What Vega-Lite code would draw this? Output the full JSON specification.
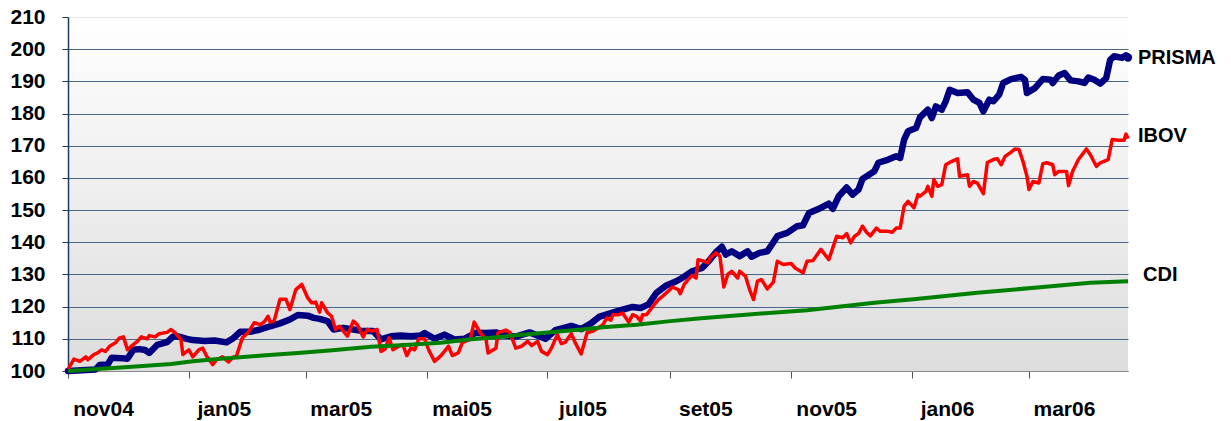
{
  "$schema": "https://vega.github.io/schema/vega-lite/v6.json",
  "width": 1060,
  "height": 354,
  "autosize": {"type": "none"},
  "padding": {"left": 68, "top": 17, "right": 103, "bottom": 50},
  "background": "#ffffff",
  "view": {
    "stroke": null,
    "fill": {"gradient": "linear", "x1": 0, "y1": 0, "x2": 0, "y2": 1,
      "stops": [{"offset": 0, "color": "#ffffff"}, {"offset": 1, "color": "#dddddd"}]}
  },
  "config": {"font": "Liberation Sans"},
  "datasets": {
    "prisma": [
      {"date": "2004-11-01", "value": 100}, {"date": "2004-11-15", "value": 100.5}, {"date": "2004-11-17", "value": 101.9},
      {"date": "2004-11-21", "value": 102}, {"date": "2004-11-23", "value": 104.1}, {"date": "2004-11-28", "value": 104},
      {"date": "2004-12-01", "value": 103.8}, {"date": "2004-12-04", "value": 106.6}, {"date": "2004-12-07", "value": 106.8},
      {"date": "2004-12-10", "value": 106.5}, {"date": "2004-12-12", "value": 105.6}, {"date": "2004-12-16", "value": 108.1},
      {"date": "2004-12-21", "value": 109}, {"date": "2004-12-24", "value": 110.7}, {"date": "2004-12-27", "value": 110.7},
      {"date": "2004-12-31", "value": 110}, {"date": "2005-01-03", "value": 109.6}, {"date": "2005-01-09", "value": 109.3},
      {"date": "2005-01-14", "value": 109.5}, {"date": "2005-01-20", "value": 108.9}, {"date": "2005-01-23", "value": 110},
      {"date": "2005-01-27", "value": 112.2}, {"date": "2005-02-01", "value": 112.2}, {"date": "2005-02-06", "value": 112.9},
      {"date": "2005-02-11", "value": 113.9}, {"date": "2005-02-16", "value": 114.8}, {"date": "2005-02-21", "value": 116},
      {"date": "2005-02-25", "value": 117.4}, {"date": "2005-03-02", "value": 117.2}, {"date": "2005-03-05", "value": 116.5},
      {"date": "2005-03-08", "value": 116.2}, {"date": "2005-03-12", "value": 115.5}, {"date": "2005-03-15", "value": 112.9},
      {"date": "2005-03-20", "value": 113.4}, {"date": "2005-03-25", "value": 112.9}, {"date": "2005-03-30", "value": 112.4},
      {"date": "2005-04-04", "value": 112.4}, {"date": "2005-04-08", "value": 109.8}, {"date": "2005-04-13", "value": 110.8},
      {"date": "2005-04-18", "value": 111}, {"date": "2005-04-23", "value": 110.8}, {"date": "2005-04-28", "value": 111},
      {"date": "2005-04-30", "value": 111.8}, {"date": "2005-05-05", "value": 110}, {"date": "2005-05-10", "value": 111.3},
      {"date": "2005-05-15", "value": 109.8}, {"date": "2005-05-20", "value": 110}, {"date": "2005-05-26", "value": 111.9},
      {"date": "2005-05-31", "value": 111.8}, {"date": "2005-06-05", "value": 112}, {"date": "2005-06-10", "value": 111},
      {"date": "2005-06-15", "value": 110.7}, {"date": "2005-06-22", "value": 112}, {"date": "2005-06-30", "value": 110},
      {"date": "2005-07-05", "value": 112.7}, {"date": "2005-07-13", "value": 114}, {"date": "2005-07-18", "value": 113},
      {"date": "2005-07-23", "value": 114.8}, {"date": "2005-07-27", "value": 116.8}, {"date": "2005-08-02", "value": 118},
      {"date": "2005-08-07", "value": 118.9}, {"date": "2005-08-13", "value": 119.9}, {"date": "2005-08-17", "value": 119.6},
      {"date": "2005-08-21", "value": 120.7}, {"date": "2005-08-25", "value": 124.3}, {"date": "2005-08-30", "value": 126.6},
      {"date": "2005-09-04", "value": 127.9}, {"date": "2005-09-08", "value": 129.3}, {"date": "2005-09-12", "value": 131},
      {"date": "2005-09-17", "value": 132}, {"date": "2005-09-21", "value": 134.6}, {"date": "2005-09-24", "value": 136.9},
      {"date": "2005-09-27", "value": 138.6}, {"date": "2005-09-29", "value": 136.2}, {"date": "2005-10-02", "value": 137.2},
      {"date": "2005-10-06", "value": 135.7}, {"date": "2005-10-10", "value": 137.2}, {"date": "2005-10-12", "value": 135.5},
      {"date": "2005-10-16", "value": 136.7}, {"date": "2005-10-20", "value": 137.2}, {"date": "2005-10-25", "value": 141.9},
      {"date": "2005-10-30", "value": 142.9}, {"date": "2005-11-04", "value": 145}, {"date": "2005-11-07", "value": 145.3},
      {"date": "2005-11-10", "value": 149.1}, {"date": "2005-11-15", "value": 150.4}, {"date": "2005-11-20", "value": 152},
      {"date": "2005-11-22", "value": 150.4}, {"date": "2005-11-25", "value": 154.3}, {"date": "2005-11-29", "value": 157},
      {"date": "2005-12-02", "value": 154.8}, {"date": "2005-12-05", "value": 156.4}, {"date": "2005-12-07", "value": 159.7},
      {"date": "2005-12-13", "value": 162.1}, {"date": "2005-12-15", "value": 164.7}, {"date": "2005-12-20", "value": 165.7},
      {"date": "2005-12-24", "value": 166.7}, {"date": "2005-12-26", "value": 166.2}, {"date": "2005-12-28", "value": 171.9},
      {"date": "2005-12-30", "value": 174.5}, {"date": "2006-01-03", "value": 175.5}, {"date": "2006-01-05", "value": 178.8},
      {"date": "2006-01-09", "value": 181.2}, {"date": "2006-01-11", "value": 178.6}, {"date": "2006-01-13", "value": 182.2},
      {"date": "2006-01-16", "value": 181.2}, {"date": "2006-01-18", "value": 183.8}, {"date": "2006-01-20", "value": 187.4},
      {"date": "2006-01-24", "value": 186.4}, {"date": "2006-01-29", "value": 186.6}, {"date": "2006-02-01", "value": 184.3},
      {"date": "2006-02-04", "value": 183.3}, {"date": "2006-02-06", "value": 180.7}, {"date": "2006-02-09", "value": 184.3},
      {"date": "2006-02-11", "value": 183.8}, {"date": "2006-02-14", "value": 185.9}, {"date": "2006-02-16", "value": 189.5},
      {"date": "2006-02-20", "value": 190.7}, {"date": "2006-02-25", "value": 191.4}, {"date": "2006-02-27", "value": 190.5},
      {"date": "2006-02-28", "value": 186.4}, {"date": "2006-03-04", "value": 187.9}, {"date": "2006-03-08", "value": 190.7},
      {"date": "2006-03-12", "value": 190.5}, {"date": "2006-03-13", "value": 189.5}, {"date": "2006-03-16", "value": 191.8},
      {"date": "2006-03-19", "value": 192.6}, {"date": "2006-03-22", "value": 190.3}, {"date": "2006-03-26", "value": 190},
      {"date": "2006-03-29", "value": 189.5}, {"date": "2006-03-31", "value": 191.2}, {"date": "2006-04-03", "value": 190.5},
      {"date": "2006-04-06", "value": 189.3}, {"date": "2006-04-09", "value": 191}, {"date": "2006-04-11", "value": 196.7},
      {"date": "2006-04-13", "value": 197.8}, {"date": "2006-04-17", "value": 197.3}, {"date": "2006-04-19", "value": 198.1},
      {"date": "2006-04-20", "value": 197.4}
    ],
    "ibov": [
      {"date": "2004-11-01", "value": 100.5}, {"date": "2004-11-04", "value": 103.7}, {"date": "2004-11-07", "value": 103},
      {"date": "2004-11-10", "value": 104.4}, {"date": "2004-11-11", "value": 103.5}, {"date": "2004-11-14", "value": 105.1},
      {"date": "2004-11-16", "value": 105.6}, {"date": "2004-11-18", "value": 106.6}, {"date": "2004-11-20", "value": 106.1},
      {"date": "2004-11-22", "value": 107.7}, {"date": "2004-11-25", "value": 108.8}, {"date": "2004-11-27", "value": 110.3},
      {"date": "2004-11-29", "value": 110.6}, {"date": "2004-12-01", "value": 106.6}, {"date": "2004-12-03", "value": 107.7},
      {"date": "2004-12-06", "value": 109.2}, {"date": "2004-12-08", "value": 110.6}, {"date": "2004-12-11", "value": 110},
      {"date": "2004-12-12", "value": 111}, {"date": "2004-12-15", "value": 110.6}, {"date": "2004-12-17", "value": 111.6},
      {"date": "2004-12-21", "value": 112}, {"date": "2004-12-23", "value": 112.9}, {"date": "2004-12-25", "value": 111.9},
      {"date": "2004-12-28", "value": 109.8}, {"date": "2004-12-29", "value": 105.1}, {"date": "2005-01-01", "value": 106.6},
      {"date": "2005-01-03", "value": 104.4}, {"date": "2005-01-06", "value": 106.6}, {"date": "2005-01-08", "value": 107.1},
      {"date": "2005-01-10", "value": 104.6}, {"date": "2005-01-13", "value": 102}, {"date": "2005-01-15", "value": 103.5},
      {"date": "2005-01-18", "value": 104.4}, {"date": "2005-01-21", "value": 102.8}, {"date": "2005-01-23", "value": 104.2},
      {"date": "2005-01-25", "value": 104.6}, {"date": "2005-01-28", "value": 110.3}, {"date": "2005-01-31", "value": 112},
      {"date": "2005-02-03", "value": 115}, {"date": "2005-02-06", "value": 114.4}, {"date": "2005-02-08", "value": 115.2},
      {"date": "2005-02-10", "value": 117}, {"date": "2005-02-11", "value": 115.2}, {"date": "2005-02-13", "value": 115.5},
      {"date": "2005-02-16", "value": 122.3}, {"date": "2005-02-19", "value": 122.3}, {"date": "2005-02-21", "value": 119.1},
      {"date": "2005-02-24", "value": 125.3}, {"date": "2005-02-27", "value": 126.9}, {"date": "2005-03-02", "value": 122.7},
      {"date": "2005-03-04", "value": 121.2}, {"date": "2005-03-06", "value": 121.4}, {"date": "2005-03-08", "value": 118.3},
      {"date": "2005-03-09", "value": 121.2}, {"date": "2005-03-12", "value": 118.1}, {"date": "2005-03-14", "value": 117},
      {"date": "2005-03-16", "value": 112.9}, {"date": "2005-03-18", "value": 113.9}, {"date": "2005-03-22", "value": 110.8},
      {"date": "2005-03-25", "value": 115.5}, {"date": "2005-03-27", "value": 114.4}, {"date": "2005-03-30", "value": 110.6},
      {"date": "2005-04-01", "value": 112.9}, {"date": "2005-04-03", "value": 112.4}, {"date": "2005-04-06", "value": 112.9},
      {"date": "2005-04-08", "value": 106.1}, {"date": "2005-04-10", "value": 106.8}, {"date": "2005-04-12", "value": 110.3},
      {"date": "2005-04-14", "value": 106.6}, {"date": "2005-04-17", "value": 107.7}, {"date": "2005-04-19", "value": 108.2},
      {"date": "2005-04-21", "value": 104.8}, {"date": "2005-04-23", "value": 107.1}, {"date": "2005-04-25", "value": 106.6},
      {"date": "2005-04-27", "value": 110}, {"date": "2005-04-30", "value": 110}, {"date": "2005-05-02", "value": 106.6},
      {"date": "2005-05-05", "value": 103}, {"date": "2005-05-08", "value": 104.6}, {"date": "2005-05-10", "value": 106.1},
      {"date": "2005-05-12", "value": 107.7}, {"date": "2005-05-14", "value": 104.8}, {"date": "2005-05-17", "value": 105.6},
      {"date": "2005-05-19", "value": 108.8}, {"date": "2005-05-23", "value": 109.8}, {"date": "2005-05-25", "value": 115.2},
      {"date": "2005-05-28", "value": 111.9}, {"date": "2005-05-31", "value": 109.8}, {"date": "2005-06-01", "value": 105.6},
      {"date": "2005-06-05", "value": 107.1}, {"date": "2005-06-06", "value": 111.9}, {"date": "2005-06-10", "value": 112.7},
      {"date": "2005-06-12", "value": 112}, {"date": "2005-06-15", "value": 107.1}, {"date": "2005-06-18", "value": 107.7},
      {"date": "2005-06-21", "value": 109.2}, {"date": "2005-06-23", "value": 107.9}, {"date": "2005-06-26", "value": 109.2},
      {"date": "2005-06-28", "value": 106.1}, {"date": "2005-07-01", "value": 105.1}, {"date": "2005-07-03", "value": 107.1},
      {"date": "2005-07-06", "value": 111.3}, {"date": "2005-07-08", "value": 108.5}, {"date": "2005-07-10", "value": 108.9},
      {"date": "2005-07-13", "value": 111.6}, {"date": "2005-07-15", "value": 108.8}, {"date": "2005-07-18", "value": 105.3},
      {"date": "2005-07-21", "value": 111.9}, {"date": "2005-07-24", "value": 112.4}, {"date": "2005-07-26", "value": 113.1},
      {"date": "2005-07-29", "value": 114.4}, {"date": "2005-07-31", "value": 116.5}, {"date": "2005-08-02", "value": 115.8},
      {"date": "2005-08-03", "value": 117.5}, {"date": "2005-08-06", "value": 117.5}, {"date": "2005-08-08", "value": 118},
      {"date": "2005-08-09", "value": 117}, {"date": "2005-08-11", "value": 115.2}, {"date": "2005-08-13", "value": 117.5},
      {"date": "2005-08-15", "value": 117}, {"date": "2005-08-17", "value": 115.5}, {"date": "2005-08-18", "value": 117.5},
      {"date": "2005-08-20", "value": 117.5}, {"date": "2005-08-23", "value": 119.9}, {"date": "2005-08-26", "value": 122.2},
      {"date": "2005-08-28", "value": 123.2}, {"date": "2005-08-31", "value": 124.8}, {"date": "2005-09-02", "value": 126.1},
      {"date": "2005-09-05", "value": 125.3}, {"date": "2005-09-06", "value": 124}, {"date": "2005-09-08", "value": 126.9},
      {"date": "2005-09-10", "value": 128.4}, {"date": "2005-09-12", "value": 129.7}, {"date": "2005-09-14", "value": 128.9},
      {"date": "2005-09-15", "value": 134.6}, {"date": "2005-09-18", "value": 134.1}, {"date": "2005-09-20", "value": 133.6},
      {"date": "2005-09-21", "value": 135.1}, {"date": "2005-09-24", "value": 136.7}, {"date": "2005-09-26", "value": 135.7},
      {"date": "2005-09-28", "value": 126.1}, {"date": "2005-09-30", "value": 130}, {"date": "2005-10-02", "value": 131},
      {"date": "2005-10-05", "value": 128.9}, {"date": "2005-10-06", "value": 131}, {"date": "2005-10-09", "value": 129.4},
      {"date": "2005-10-11", "value": 125.3}, {"date": "2005-10-13", "value": 122.2}, {"date": "2005-10-15", "value": 127.9},
      {"date": "2005-10-17", "value": 128.4}, {"date": "2005-10-20", "value": 125.5}, {"date": "2005-10-23", "value": 127.6},
      {"date": "2005-10-25", "value": 134.1}, {"date": "2005-10-28", "value": 133.1}, {"date": "2005-11-01", "value": 133.4},
      {"date": "2005-11-03", "value": 132}, {"date": "2005-11-07", "value": 130.5}, {"date": "2005-11-09", "value": 134.1},
      {"date": "2005-11-12", "value": 134.3}, {"date": "2005-11-16", "value": 137.8}, {"date": "2005-11-20", "value": 134.6},
      {"date": "2005-11-24", "value": 141.9}, {"date": "2005-11-27", "value": 141.4}, {"date": "2005-11-29", "value": 142.7},
      {"date": "2005-12-01", "value": 139.8}, {"date": "2005-12-03", "value": 141.9}, {"date": "2005-12-05", "value": 142.7},
      {"date": "2005-12-07", "value": 145}, {"date": "2005-12-09", "value": 143.1}, {"date": "2005-12-11", "value": 142},
      {"date": "2005-12-14", "value": 144.4}, {"date": "2005-12-16", "value": 143.4}, {"date": "2005-12-20", "value": 143.4},
      {"date": "2005-12-22", "value": 143.1}, {"date": "2005-12-24", "value": 144.4}, {"date": "2005-12-26", "value": 144.4},
      {"date": "2005-12-28", "value": 151.2}, {"date": "2005-12-30", "value": 152.7}, {"date": "2006-01-02", "value": 150.7},
      {"date": "2006-01-04", "value": 154.8}, {"date": "2006-01-05", "value": 154.3}, {"date": "2006-01-08", "value": 155.8},
      {"date": "2006-01-09", "value": 157.4}, {"date": "2006-01-11", "value": 154.3}, {"date": "2006-01-12", "value": 159.5},
      {"date": "2006-01-14", "value": 157.4}, {"date": "2006-01-16", "value": 157.9}, {"date": "2006-01-18", "value": 164.1},
      {"date": "2006-01-20", "value": 164.8}, {"date": "2006-01-24", "value": 165.9}, {"date": "2006-01-25", "value": 160.5},
      {"date": "2006-01-29", "value": 161}, {"date": "2006-01-30", "value": 157.4}, {"date": "2006-02-01", "value": 158.9},
      {"date": "2006-02-03", "value": 158.4}, {"date": "2006-02-06", "value": 155.1}, {"date": "2006-02-08", "value": 164.8},
      {"date": "2006-02-11", "value": 165.7}, {"date": "2006-02-13", "value": 166}, {"date": "2006-02-15", "value": 164.1},
      {"date": "2006-02-17", "value": 166.7}, {"date": "2006-02-20", "value": 168}, {"date": "2006-02-22", "value": 169},
      {"date": "2006-02-24", "value": 168.8}, {"date": "2006-02-26", "value": 165.1}, {"date": "2006-02-28", "value": 160.5},
      {"date": "2006-03-01", "value": 156.4}, {"date": "2006-03-03", "value": 158.9}, {"date": "2006-03-06", "value": 158.4},
      {"date": "2006-03-08", "value": 164.4}, {"date": "2006-03-10", "value": 164.7}, {"date": "2006-03-13", "value": 164.1},
      {"date": "2006-03-14", "value": 161}, {"date": "2006-03-16", "value": 162}, {"date": "2006-03-20", "value": 162},
      {"date": "2006-03-21", "value": 157.6}, {"date": "2006-03-23", "value": 162}, {"date": "2006-03-26", "value": 165.7},
      {"date": "2006-03-30", "value": 169}, {"date": "2006-04-01", "value": 167.2}, {"date": "2006-04-04", "value": 163.6},
      {"date": "2006-04-06", "value": 164.7}, {"date": "2006-04-10", "value": 165.7}, {"date": "2006-04-12", "value": 171.9},
      {"date": "2006-04-15", "value": 171.7}, {"date": "2006-04-18", "value": 171.7}, {"date": "2006-04-19", "value": 173.6},
      {"date": "2006-04-20", "value": 172.2}
    ],
    "cdi": [
      {"date": "2004-11-01", "value": 100}, {"date": "2004-12-07", "value": 101.5}, {"date": "2004-12-23", "value": 102.2},
      {"date": "2005-01-03", "value": 103}, {"date": "2005-01-17", "value": 103.8}, {"date": "2005-02-07", "value": 104.8},
      {"date": "2005-02-25", "value": 105.6}, {"date": "2005-03-13", "value": 106.4}, {"date": "2005-04-03", "value": 107.5},
      {"date": "2005-04-18", "value": 108}, {"date": "2005-05-08", "value": 108.8}, {"date": "2005-05-22", "value": 109.8},
      {"date": "2005-06-07", "value": 110.6}, {"date": "2005-06-24", "value": 111.6}, {"date": "2005-07-18", "value": 112.9},
      {"date": "2005-07-29", "value": 113.6}, {"date": "2005-08-15", "value": 114.4}, {"date": "2005-09-01", "value": 115.5},
      {"date": "2005-09-18", "value": 116.5}, {"date": "2005-10-09", "value": 117.5}, {"date": "2005-11-09", "value": 118.9},
      {"date": "2005-12-13", "value": 121.2}, {"date": "2006-01-03", "value": 122.4}, {"date": "2006-02-03", "value": 124.3},
      {"date": "2006-03-08", "value": 126.1}, {"date": "2006-04-01", "value": 127.4}, {"date": "2006-04-20", "value": 127.9}
    ],
    "labels": [
      {"series": "PRISMA", "date": "2006-04-20", "value": 197.4},
      {"series": "IBOV", "date": "2006-04-20", "value": 173.0},
      {"series": "CDI", "date": "2006-04-20", "value": 129.9}
    ]
  },
  "encoding": {
    "x": {
      "field": "date", "type": "temporal",
      "scale": {"type": "utc", "domain": [{"year": 2004, "month": 11, "date": 1, "utc": true}, {"year": 2006, "month": 4, "date": 20, "utc": true}]},
      "axis": {
        "title": null,
        "grid": false,
        "values": [
          {"year": 2004, "month": 11, "date": 1, "utc": true},
          {"year": 2005, "month": 1, "date": 1, "utc": true},
          {"year": 2005, "month": 3, "date": 1, "utc": true},
          {"year": 2005, "month": 5, "date": 1, "utc": true},
          {"year": 2005, "month": 7, "date": 1, "utc": true},
          {"year": 2005, "month": 9, "date": 1, "utc": true},
          {"year": 2005, "month": 11, "date": 1, "utc": true},
          {"year": 2006, "month": 1, "date": 1, "utc": true},
          {"year": 2006, "month": 3, "date": 1, "utc": true}
        ],
        "labelExpr": "['jan','fev','mar','abr','mai','jun','jul','ago','set','out','nov','dez'][utcmonth(datum.value)] + utcFormat(datum.value, '%y')",
        "labelOffset": 35,
        "labelAlign": "center",
        "labelOverlap": false,
        "labelBound": false,
        "labelFlush": false,
        "labelFontSize": 21,
        "labelFontWeight": "bold",
        "labelColor": "#000000",
        "labelPadding": 20,
        "tickSize": 7,
        "tickColor": "#555555",
        "tickWidth": 1,
        "domainColor": "#8a8a8a",
        "domainWidth": 1
      }
    },
    "y": {
      "field": "value", "type": "quantitative",
      "scale": {"domain": [100, 210], "nice": false, "zero": false},
      "axis": {
        "title": null,
        "values": [100, 110, 120, 130, 140, 150, 160, 170, 180, 190, 200, 210],
        "grid": true,
        "gridColor": {"condition": {"test": "datum.value === 210", "value": "#e6e6e6"}, "value": "#4a678a"},
        "gridWidth": 1,
        "labelFontSize": 21,
        "labelFontWeight": "bold",
        "labelColor": "#000000",
        "labelPadding": 17,
        "tickSize": 6,
        "tickColor": "#1f3b66",
        "domainColor": "#1f3b66",
        "domainWidth": 1.5
      }
    }
  },
  "layer": [
    {
      "data": {"name": "prisma"},
      "mark": {"type": "line", "color": "#000080", "strokeWidth": 6.5, "strokeJoin": "round", "strokeCap": "round"}
    },
    {
      "data": {"name": "ibov"},
      "mark": {"type": "line", "color": "#ff0000", "strokeWidth": 3.5, "strokeJoin": "round"}
    },
    {
      "data": {"name": "cdi"},
      "mark": {"type": "line", "color": "#008000", "strokeWidth": 4, "strokeJoin": "round"}
    },
    {
      "data": {"name": "labels"},
      "transform": [{"filter": "datum.series === 'PRISMA'"}],
      "mark": {"type": "point", "filled": true, "color": "#000080", "size": 70, "opacity": 1}
    },
    {
      "data": {"name": "labels"},
      "transform": [{"filter": "datum.series !== 'CDI'"}],
      "mark": {"type": "text", "align": "left", "baseline": "middle", "dx": 10, "fontSize": 20, "fontWeight": "bold", "color": "#000000"},
      "encoding": {"text": {"field": "series"}}
    },
    {
      "data": {"name": "labels"},
      "transform": [{"filter": "datum.series === 'CDI'"}],
      "mark": {"type": "text", "align": "left", "baseline": "middle", "dx": 15, "fontSize": 20, "fontWeight": "bold", "color": "#000000"},
      "encoding": {"text": {"field": "series"}}
    }
  ]
}
